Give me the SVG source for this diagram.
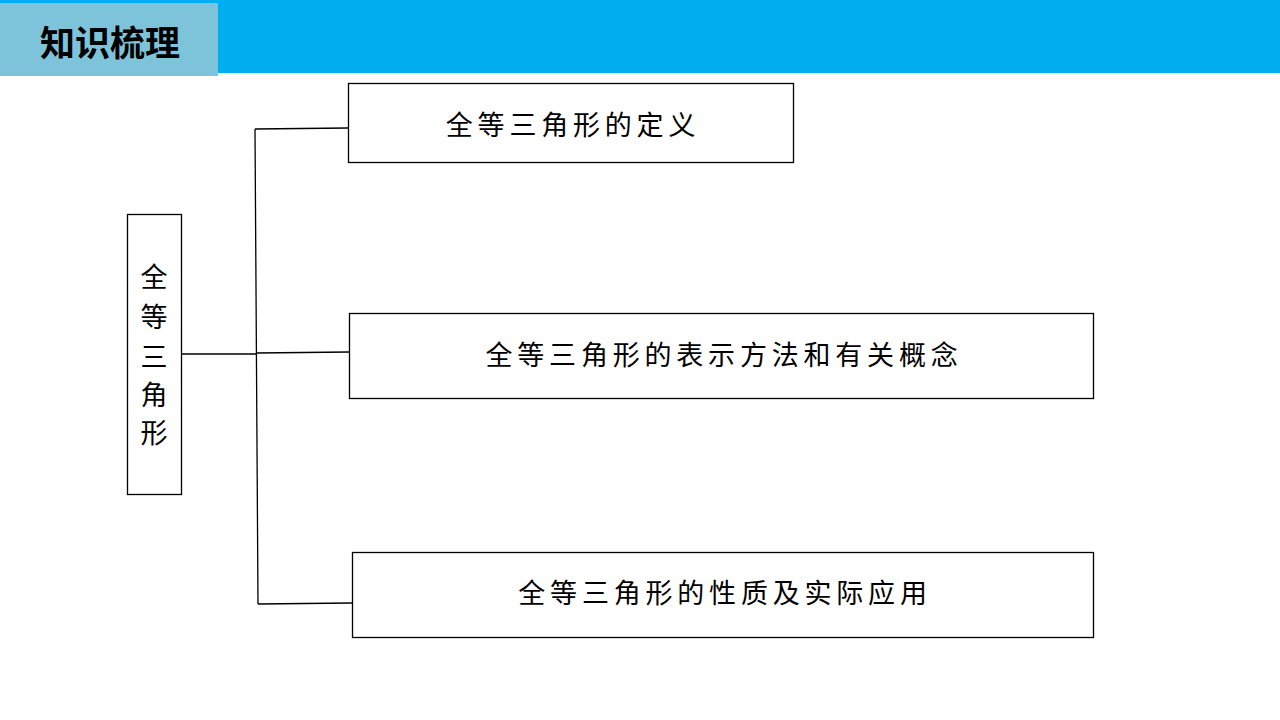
<svg xmlns="http://www.w3.org/2000/svg" width="1280" height="720" viewBox="0 0 1280 720">
<style>
.box{fill:#fff;stroke:#000;stroke-width:1.3}
.lbl{font-family:"Noto Sans CJK SC","Noto Sans CJK JP",sans-serif;font-size:27px;fill:#000;text-anchor:middle;dominant-baseline:central;letter-spacing:4.8px}
.con{fill:none;stroke:#000;stroke-width:1.3}
</style>
<rect width="1280" height="720" fill="#fff"/>
<g id="header">
<rect x="0" y="0" width="1280" height="73" fill="#00ADEF"/>
<rect x="0" y="3" width="218" height="73" fill="#7DC4DA"/>
<text x="110" y="40" font-family="'Noto Sans CJK SC',sans-serif" font-size="35" font-weight="bold" text-anchor="middle" dominant-baseline="central" fill="#000">知识梳理</text>
</g>
<g id="connectors">
<path class="con" d="M181 354 H257"/>
<path class="con" d="M255 129 L258 604"/>
<path class="con" d="M255 129 L348 128"/>
<path class="con" d="M257 353 L349 352"/>
<path class="con" d="M258 604 L352 603"/>
</g>
<g id="root">
<rect class="box" x="127.5" y="214.5" width="54" height="280"/>
<text class="lbl" x="154" y="275" style="letter-spacing:0">全</text>
<text class="lbl" x="154" y="315" style="letter-spacing:0">等</text>
<text class="lbl" x="154" y="355" style="letter-spacing:0">三</text>
<text class="lbl" x="154" y="393" style="letter-spacing:0">角</text>
<text class="lbl" x="154" y="431" style="letter-spacing:0">形</text>
</g>
<g id="n1">
<rect class="box" x="348.5" y="83.5" width="445" height="79"/>
<text class="lbl" x="573" y="123">全等三角形的定义</text>
</g>
<g id="n2">
<rect class="box" x="349.5" y="313.5" width="744" height="85"/>
<text class="lbl" x="724" y="353">全等三角形的表示方法和有关概念</text>
</g>
<g id="n3">
<rect class="box" x="352.5" y="552.5" width="741" height="85"/>
<text class="lbl" x="725" y="591">全等三角形的性质及实际应用</text>
</g>
</svg>
